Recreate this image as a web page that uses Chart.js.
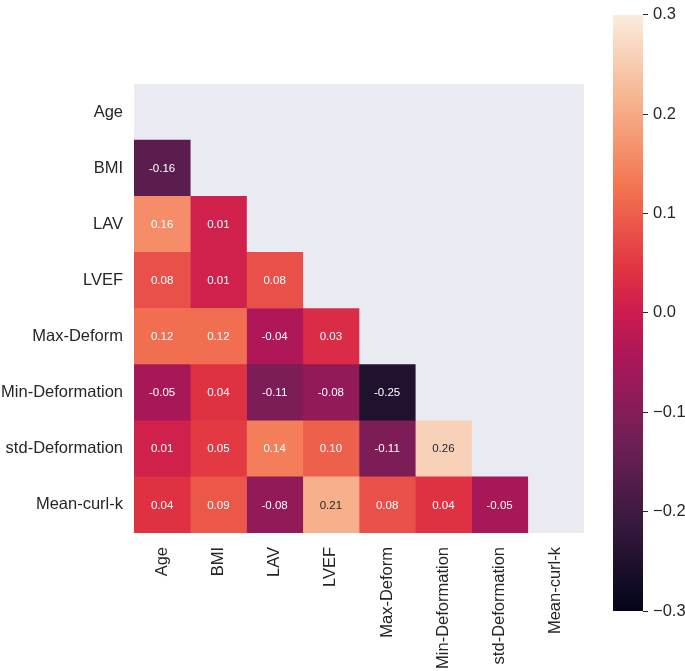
<!DOCTYPE html>
<html><head><meta charset="utf-8">
<script src="https://cdn.jsdelivr.net/npm/chart.js@4/dist/chart.umd.min.js"></script>
<style>
html,body{margin:0;padding:0;background:#fff;}
#wrap{position:relative;width:685px;height:671px;overflow:hidden;}
#heat{position:absolute;left:0;top:0;}
#cbar{position:absolute;left:600px;top:0;}
</style></head><body>
<div id="wrap"><canvas id="heat" width="685" height="671"></canvas><canvas id="cbar" width="85" height="671"></canvas></div>
<script>
// ---- data ----
const categories = ['Age','BMI','LAV','LVEF','Max-Deform','Min-Deformation','std-Deformation','Mean-curl-k'];
const rowAge = [];
const rowBMI = [-0.16];
const rowLAV = [0.16, 0.01];
const rowLVEF = [0.08, 0.01, 0.08];
const rowMaxDeform = [0.12, 0.12, -0.04, 0.03];
const rowMinDeformation = [-0.05, 0.04, -0.11, -0.08, -0.25];
const rowStdDeformation = [0.01, 0.05, 0.14, 0.10, -0.11, 0.26];
const rowMeanCurlK = [0.04, 0.09, -0.08, 0.21, 0.08, 0.04, -0.05];
const corrRows = [rowAge, rowBMI, rowLAV, rowLVEF, rowMaxDeform, rowMinDeformation, rowStdDeformation, rowMeanCurlK];
const vmin = -0.3, vmax = 0.3;
const colorbarTicks = [-0.3, -0.2, -0.1, 0.0, 0.1, 0.2, 0.3];

// ---- rocket colormap ----
const rocketStops = [[0,'#03051a'],[1/7,'#35193e'],[2/7,'#701f57'],[3/7,'#ad1759'],[0.5,'#cb1b4f'],[4/7,'#e13342'],[5/7,'#f37651'],[6/7,'#f6b48f'],[1,'#faebdd']];
function hexRgb(h){return [parseInt(h.slice(1,3),16),parseInt(h.slice(3,5),16),parseInt(h.slice(5,7),16)];}
function rgbFor(v){
  let t=(v-vmin)/(vmax-vmin); t=Math.max(0,Math.min(1,t));
  for(let k=0;k<rocketStops.length-1;k++){
    const [t0,c0]=rocketStops[k],[t1,c1]=rocketStops[k+1];
    if(t<=t1){const f=(t-t0)/(t1-t0);const a=hexRgb(c0),b=hexRgb(c1);
      return a.map((x,i)=>Math.round(x+(b[i]-x)*f));}
  }
  return hexRgb(rocketStops[rocketStops.length-1][1]);
}
function colorFor(v){const c=rgbFor(v);return `rgb(${c[0]},${c[1]},${c[2]})`;}
function textColorFor(v){
  const c=rgbFor(v).map(x=>{x/=255;return x<=0.03928?x/12.92:Math.pow((x+0.055)/1.055,2.4);});
  const lum=0.2126*c[0]+0.7152*c[1]+0.0722*c[2];
  return lum>0.408?'#262626':'#ffffff';
}

const FONT='"Liberation Sans", Arial, Helvetica, sans-serif';
const TXT='#262626';

// ---- heatmap ----
const datasets = categories.map((_,j)=>({
  data: categories.map((_,i)=> (corrRows[i][j]!==undefined) ? [j, j+1] : null),
  backgroundColor: ctx => { const v=corrRows[ctx.dataIndex] && corrRows[ctx.dataIndex][ctx.datasetIndex]; return v===undefined?'rgba(0,0,0,0)':colorFor(v); },
  borderWidth: 0,
  grouped: false,
  barPercentage: 1,
  categoryPercentage: 1
}));

const bgPlugin = {
  id:'bg',
  beforeDatasetsDraw(chart){
    const {ctx,chartArea:a}=chart; ctx.save(); ctx.fillStyle='#eaeaf2';
    ctx.fillRect(a.left,a.top,a.right-a.left,a.bottom-a.top); ctx.restore();
  }
};
const annotPlugin = {
  id:'annot',
  afterDatasetsDraw(chart){
    const c=chart.ctx; c.save();
    c.font='11.5px '+FONT; c.textAlign='center'; c.textBaseline='middle';
    chart.data.datasets.forEach((ds,j)=>{
      chart.getDatasetMeta(j).data.forEach((bar,i)=>{
        const v=corrRows[i][j]; if(v===undefined) return;
        const p=bar.getProps(['x','y','base'],true);
        c.fillStyle=textColorFor(v);
        c.fillText(v.toFixed(2),(p.x+p.base)/2,p.y+0.5);
      });
    });
    c.restore();
  }
};

new Chart(document.getElementById('heat'),{
  type:'bar',
  data:{labels:categories,datasets},
  options:{
    indexAxis:'y',
    responsive:false,
    animation:false,
    events:[],
    layout:{padding:{top:84,right:101,left:0,bottom:0}},
    plugins:{legend:{display:false},tooltip:{enabled:false}},
    scales:{
      x:{type:'linear',min:0,max:8,position:'bottom',
        grid:{display:false,drawTicks:false},border:{display:false},
        afterBuildTicks:s=>{s.ticks=categories.map((_,i)=>({value:i+0.5}));},
        afterFit:s=>{s.height=138;},
        ticks:{autoSkip:false,minRotation:90,maxRotation:90,padding:14,color:TXT,font:{family:FONT,size:16.5},
          callback:(v,i)=>categories[i]}
      },
      y:{type:'category',
        grid:{display:false,drawTicks:false},border:{display:false},
        afterFit:s=>{s.width=134;},
        ticks:{padding:11,color:TXT,font:{family:FONT,size:16.5}}
      }
    }
  },
  plugins:[bgPlugin,annotPlugin]
});

// ---- colorbar ----
new Chart(document.getElementById('cbar'),{
  type:'bar',
  data:{labels:['cbar'],datasets:[{
    data:[[vmin,vmax]],
    borderWidth:0,barPercentage:1,categoryPercentage:1,
    backgroundColor:ctx=>{
      const a=ctx.chart.chartArea; if(!a) return colorFor(0);
      const g=ctx.chart.ctx.createLinearGradient(0,a.bottom,0,a.top);
      rocketStops.forEach(([t,c])=>g.addColorStop(t,c));
      return g;
    }
  }]},
  options:{
    responsive:false,animation:false,events:[],
    layout:{padding:{top:5,bottom:60,left:13,right:0}},
    plugins:{legend:{display:false},tooltip:{enabled:false}},
    scales:{
      x:{display:false},
      y:{type:'linear',position:'right',min:vmin,max:vmax,
        afterBuildTicks:s=>{s.ticks=colorbarTicks.map(v=>({value:v}));},
        afterFit:s=>{s.width=42;},
        grid:{drawOnChartArea:false,drawTicks:true,tickLength:5,color:TXT},
        border:{display:false},
        ticks:{padding:5,color:TXT,font:{family:FONT,size:16.5},
          callback:v=>(Math.round(v*10)/10).toFixed(1).replace('-','\u2212')}
      }
    }
  }
});
</script>
</body></html>
